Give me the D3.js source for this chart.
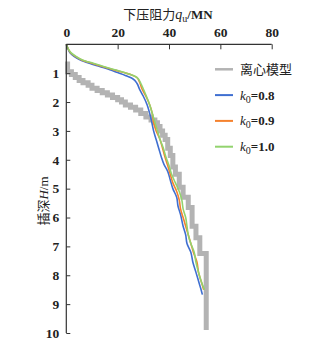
<!DOCTYPE html>
<html><head><meta charset="utf-8">
<script src="https://cdn.jsdelivr.net/npm/d3@7"></script>
<style>body{margin:0;background:#fff}svg{display:block}</style>
</head><body>
<script>
// ---- data ----
const xTicks = [0, 20, 40, 60, 80];
const yTicks = [1, 2, 3, 4, 5, 6, 7, 8, 9, 10];
const seriesNames = ["离心模型", "0.8", "0.9", "1.0"];
const seriesColors = ["#b3b3b3", "#3f6fd1", "#f5822e", "#92d36e"];
// centrifuge model (q, depth)
const centrifugeQ = [0.5,0.5,2,3.5,5,6.5,8.5,10,12,14,16,18,20,21.5,23,25,27,29,31,33,34.5,35.5,36.5,37.5,38.5,39.5,40.5,41.5,42.5,44,45.5,47.5,49,50.5,52,54.5,54.5];
const centrifugeH = [0.6,0.95,1.05,1.15,1.25,1.33,1.42,1.52,1.6,1.68,1.76,1.84,1.92,2.0,2.1,2.18,2.28,2.4,2.52,2.62,2.72,2.85,3.0,3.15,3.3,3.6,3.85,4.25,4.5,4.95,5.3,5.65,6.3,6.7,7.25,7.9,9.9];
// k0 = 0.8
const k08Q = [0,0.6,1.5,3,5.3,9,13,17,20,23,26,27.5,28.5,30,31.5,32.5,33.3,34,35,36,37,38,39.5,40.5,41.5,43,43.5,44.5,45.5,46.5,47,48.5,49.3,50.5,51.5,52.5,53];
const k08H = [0,0.15,0.3,0.42,0.54,0.66,0.77,0.88,0.98,1.08,1.2,1.35,1.55,1.8,2.1,2.4,2.7,3.0,3.3,3.6,3.9,4.15,4.4,4.7,5.0,5.3,5.6,5.9,6.3,6.6,6.9,7.2,7.55,7.9,8.2,8.5,8.67];
// k0 = 0.9
const k09Q = [0,0.7,1.8,3.5,6,10,14,18,22,25.5,27.5,28.5,29.5,31,32.5,33.5,34,35,36.5,37.5,38.4,39.5,40.5,41.5,43,44,44.5,45.5,46.5,47.5,48.5,49.5,50.9,51.5,52.5,53.5];
const k09H = [0,0.15,0.3,0.42,0.54,0.66,0.77,0.87,0.97,1.06,1.15,1.3,1.55,1.8,2.1,2.4,2.7,3.0,3.3,3.6,3.9,4.2,4.5,4.8,5.1,5.4,5.7,6.0,6.3,6.6,6.9,7.2,7.55,7.9,8.2,8.5];
// k0 = 1.0
const k10Q = [0,0.7,1.9,3.8,6.3,10.5,14.5,18.5,22,25,27.5,29,30,31.2,32.5,33.5,34.5,35.5,36.5,37.8,38.8,40,41,42.5,44,45,45.5,46.5,47,47.5,48.5,49.8,50.5,51.5,52.5,53.8];
const k10H = [0,0.15,0.3,0.42,0.54,0.66,0.77,0.87,0.96,1.05,1.15,1.35,1.55,1.8,2.1,2.4,2.7,3.0,3.3,3.6,3.9,4.2,4.5,4.8,5.1,5.4,5.7,6.0,6.3,6.6,6.9,7.2,7.55,7.9,8.2,8.5];

// ---- layout ----
const W = 336, H = 348;
const m = {left: 66.3, right: 271.7, top: 44.3, bottom: 333};
const svg = d3.select("body").append("svg").attr("width", W).attr("height", H);
const x = d3.scaleLinear().domain([0, 80]).range([m.left, m.right]);
const y = d3.scaleLinear().domain([0, 10]).range([m.top, m.bottom]);
const serif = "'Liberation Serif','DejaVu Serif',serif";
const cjk = "'Noto Sans CJK SC','Noto Sans',sans-serif";
const axisColor = "#333";

const zip = (a, b) => a.map((v, i) => [v, b[i]]);

// centrifuge stepped band
const stepLine = d3.line().x(d => x(d[0])).y(d => y(d[1])).curve(d3.curveStepAfter);
svg.append("path").datum(zip(centrifugeQ, centrifugeH))
  .attr("d", stepLine).attr("fill", "none")
  .attr("stroke", seriesColors[0]).attr("stroke-width", 5);

const line = d3.line().x(d => x(d[0])).y(d => y(d[1])).curve(d3.curveMonotoneY);
[[k08Q, k08H, 1], [k09Q, k09H, 2], [k10Q, k10H, 3]].forEach(([q, h, i]) => {
  svg.append("path").datum(zip(q, h)).attr("d", line)
    .attr("fill", "none").attr("stroke", seriesColors[i]).attr("stroke-width", 1.6);
});

// axes
const xAxis = d3.axisTop(x).tickValues(xTicks).tickSize(-5).tickPadding(7).tickFormat(d3.format("d"));
const gx = svg.append("g").attr("transform", `translate(0,${m.top})`).call(xAxis);
gx.select(".domain").attr("stroke", axisColor).attr("stroke-width", 1.2).attr("d", `M${m.left},0H${m.right}`);
gx.selectAll(".tick line").attr("stroke", axisColor);
gx.selectAll(".tick text").attr("font-family", serif).attr("font-size", 13.5).attr("font-weight", "bold").attr("fill", "#222");

const yAxis = d3.axisLeft(y).tickValues(yTicks).tickSize(-4).tickPadding(7).tickFormat(d3.format("d"));
const gy = svg.append("g").attr("transform", `translate(${m.left},0)`).call(yAxis);
gy.select(".domain").attr("stroke", axisColor).attr("stroke-width", 1.2).attr("d", `M0,${m.top}V${m.bottom}`);
gy.selectAll(".tick line").attr("stroke", axisColor);
gy.selectAll(".tick text").attr("font-family", serif).attr("font-size", 13.5).attr("font-weight", "bold").attr("fill", "#222");

// title
const t = svg.append("text").attr("x", 168).attr("y", 19).attr("text-anchor", "middle")
  .attr("font-size", 13).attr("fill", "#222");
t.append("tspan").attr("font-family", cjk).text("下压阻力");
t.append("tspan").attr("font-family", serif).attr("font-style", "italic").attr("font-size", 14).text("q");
t.append("tspan").attr("font-family", serif).attr("font-size", 10).attr("dy", 3).text("u");
t.append("tspan").attr("font-family", serif).attr("font-weight", "bold").attr("dy", -3).text("/MN");

// y label
const yl = svg.append("text").attr("transform", "translate(48,201) rotate(-90)")
  .attr("text-anchor", "middle").attr("font-size", 13).attr("fill", "#222");
yl.append("tspan").attr("font-family", cjk).text("插深");
yl.append("tspan").attr("font-family", serif).attr("font-style", "italic").text("H");
yl.append("tspan").attr("font-family", serif).text("/m");

// legend
const lg = svg.append("g");
seriesNames.forEach((name, i) => {
  const ly = 69.3 + i * 25.8;
  lg.append("line").attr("x1", 215).attr("x2", 233).attr("y1", ly).attr("y2", ly)
    .attr("stroke", seriesColors[i]).attr("stroke-width", i === 0 ? 2.5 : 2);
  const tx = lg.append("text").attr("x", 240).attr("y", ly + 4.5).attr("font-size", 13).attr("fill", "#222");
  if (i === 0) {
    tx.attr("font-family", cjk).text(name);
  } else {
    tx.append("tspan").attr("font-family", serif).attr("font-style", "italic").text("k");
    tx.append("tspan").attr("font-family", serif).attr("font-size", 10).attr("dy", 3).text("0");
    tx.append("tspan").attr("font-family", serif).attr("font-weight", "bold").attr("dy", -3).text("=" + name);
  }
});
</script>
</body></html>
